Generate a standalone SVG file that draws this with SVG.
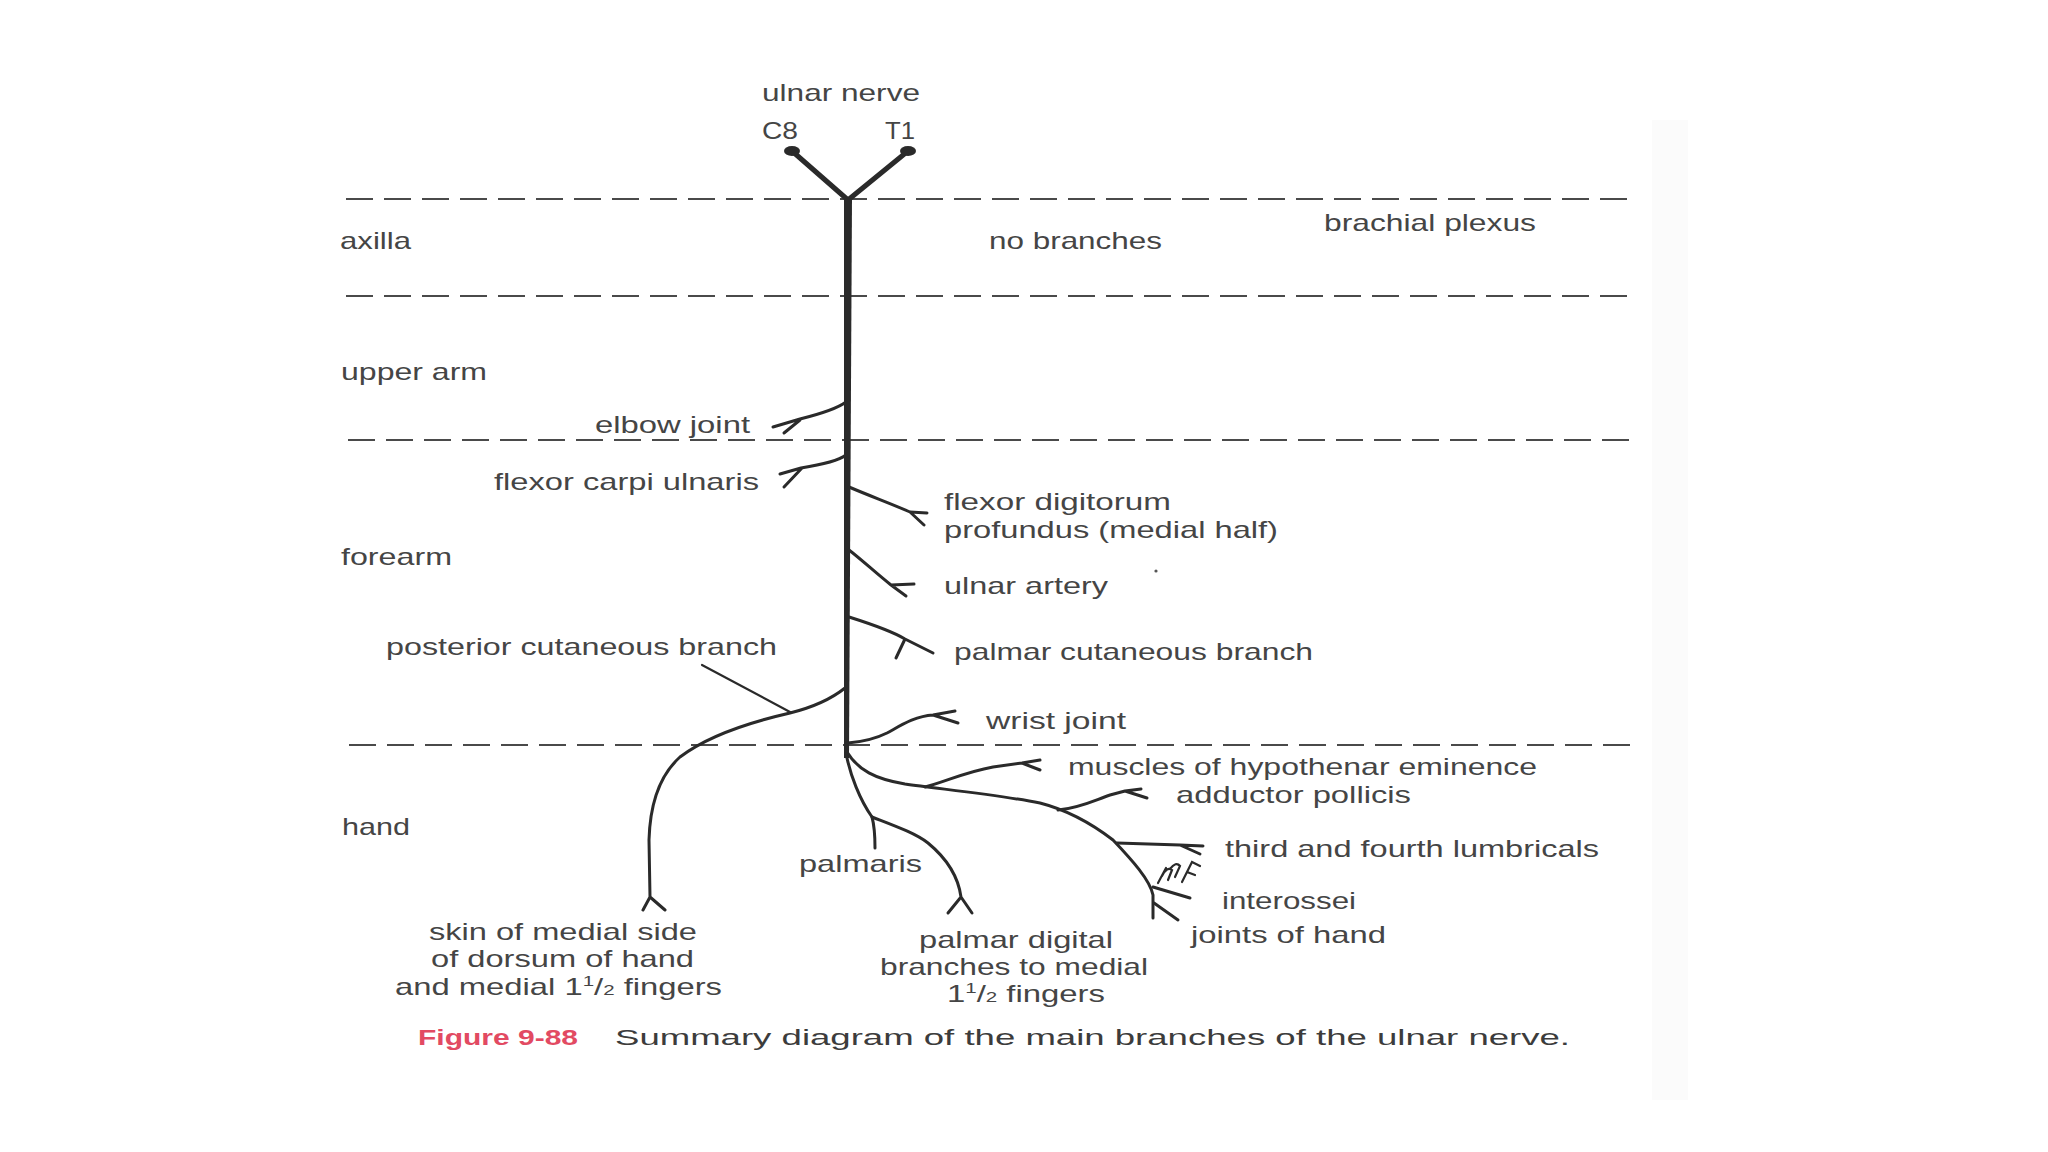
<svg xmlns="http://www.w3.org/2000/svg" width="2048" height="1152" viewBox="0 0 2048 1152">
<style>
  .t { font-family: "Liberation Sans", Arial, sans-serif; font-size: 24px; fill: #454545; }
  .cap { font-family: "Liberation Sans", Arial, sans-serif; font-size: 22px; fill: #3c3c3c; }
  .fig { font-family: "Liberation Sans", Arial, sans-serif; font-size: 22px; fill: #e24a62; font-weight: bold; }
  .dash { stroke: #4a4a4a; stroke-width: 2.2; stroke-dasharray: 27 11; fill: none; }
  .br { stroke: #2a2a2a; stroke-width: 3; fill: none; stroke-linecap: round; stroke-linejoin: round; }
  .thin { stroke: #2a2a2a; stroke-width: 2.2; fill: none; stroke-linecap: round; }
  .root { stroke: #2a2a2a; stroke-width: 5; fill: none; stroke-linecap: round; }
</style>
<rect width="2048" height="1152" fill="#ffffff"/>
<rect x="1652" y="120" width="36" height="980" fill="#f7f7f7" opacity="0.45"/>

<g id="regions">
  <line class="dash" x1="346" y1="199" x2="1636" y2="199"/>
  <line class="dash" x1="346" y1="296" x2="1636" y2="296"/>
  <line class="dash" x1="348" y1="440" x2="1636" y2="440"/>
  <line class="dash" x1="349" y1="745" x2="1636" y2="745"/>
</g>

<g id="connectors">
  <!-- roots C8 and T1 -->
  <line class="root" x1="792" y1="151" x2="848" y2="200"/>
  <line class="root" x1="908" y1="151" x2="848" y2="200"/>
  <ellipse cx="792" cy="151" rx="8" ry="5" fill="#2a2a2a"/>
  <ellipse cx="908" cy="151" rx="8" ry="5" fill="#2a2a2a"/>
  <!-- main trunk -->
  <path d="M844,198 L852,198 L849,758 L844,758 Z" fill="#2a2a2a"/>
  <!-- elbow joint -->
  <path class="br" d="M846,402 C838,408 820,414 800,419 L773,427 M800,420 L784,433"/>
  <!-- flexor carpi ulnaris -->
  <path class="br" d="M846,455 C838,461 820,465 801,468 L780,474 M802,468 L784,487"/>
  <!-- flexor digitorum profundus -->
  <path class="br" d="M849,487 C870,496 892,504 910,512 L927,513 M910,512 L924,525"/>
  <!-- ulnar artery -->
  <path class="br" d="M849,550 C862,560 877,574 891,585 L914,584 M891,585 L906,596"/>
  <!-- palmar cutaneous branch -->
  <path class="br" d="M849,617 C868,623 890,630 905,639 L933,653 M905,639 L896,658"/>
  <!-- posterior cutaneous / dorsal branch -->
  <path class="br" d="M845,688 C830,700 810,708 790,713 C742,724 705,738 680,757 C660,775 650,805 649,840 L650,897 M650,897 L643,910 M650,897 L665,910"/>
  <line class="thin" x1="702" y1="665" x2="790" y2="712"/>
  <!-- wrist joint -->
  <path class="br" d="M848,743 C860,742 873,740 887,733 C900,726 915,716 933,715 L955,711 M933,715 L958,723"/>
  <!-- deep branch -->
  <path class="br" d="M847,752 C858,770 875,779 905,784 C940,789 1000,795 1040,803 C1075,812 1100,830 1113,840 C1132,860 1150,880 1153,895 L1153,918"/>
  <!-- hypothenar -->
  <path class="br" d="M925,787 C945,782 965,772 993,767 L1022,763 L1040,760 M1022,763 L1040,770"/>
  <!-- adductor pollicis -->
  <path class="br" d="M1058,810 C1080,808 1095,800 1110,795 L1125,791 L1141,789 M1125,791 L1147,798"/>
  <!-- third and fourth lumbricals -->
  <path class="br" d="M1117,843 L1180,845 L1203,846 M1180,845 L1200,854"/>
  <!-- small twigs -->
  <path class="thin" d="M1158,883 L1166,868 M1162,876 Q1167,866 1172,870 L1168,880 M1170,869 Q1176,861 1180,866 L1175,877 M1182,882 L1192,862 L1200,866 M1187,872 L1195,875"/>
  <!-- interossei -->
  <path class="br" d="M1153,887 L1190,898"/>
  <!-- joints of hand -->
  <path class="br" d="M1154,903 L1178,920"/>
  <!-- palmaris -->
  <path class="br" d="M846,753 C850,775 860,800 872,817 C875,828 875,838 875,848"/>
  <!-- palmar digital -->
  <path class="br" d="M872,817 C895,826 915,833 928,843 C945,857 958,875 961,897 M961,897 L948,913 M961,897 L972,913"/>
</g>

<g id="labels">
  <g id="title"><text class="t" x="762" y="101" textLength="158" lengthAdjust="spacingAndGlyphs">ulnar nerve</text></g>
  <g id="c8"><text class="t" x="762" y="139" textLength="36" lengthAdjust="spacingAndGlyphs">C8</text></g>
  <g id="t1"><text class="t" x="885" y="139" textLength="30" lengthAdjust="spacingAndGlyphs">T1</text></g>
  <g id="axilla"><text class="t" x="340" y="249" textLength="71" lengthAdjust="spacingAndGlyphs">axilla</text></g>
  <g id="no-branches"><text class="t" x="989" y="249" textLength="173" lengthAdjust="spacingAndGlyphs">no branches</text></g>
  <g id="brachial-plexus"><text class="t" x="1324" y="231" textLength="212" lengthAdjust="spacingAndGlyphs">brachial plexus</text></g>
  <g id="upper-arm"><text class="t" x="341" y="380" textLength="146" lengthAdjust="spacingAndGlyphs">upper arm</text></g>
  <g id="elbow-joint"><text class="t" x="595" y="433" textLength="155" lengthAdjust="spacingAndGlyphs">elbow joint</text></g>
  <g id="fcu"><text class="t" x="494" y="490" textLength="265" lengthAdjust="spacingAndGlyphs">flexor carpi ulnaris</text></g>
  <g id="fdp">
    <text class="t" x="944" y="510" textLength="227" lengthAdjust="spacingAndGlyphs">flexor digitorum</text>
    <text class="t" x="944" y="538" textLength="334" lengthAdjust="spacingAndGlyphs">profundus (medial half)</text>
  </g>
  <g id="forearm"><text class="t" x="341" y="565" textLength="111" lengthAdjust="spacingAndGlyphs">forearm</text></g>
  <g id="ulnar-artery"><text class="t" x="944" y="594" textLength="164" lengthAdjust="spacingAndGlyphs">ulnar artery</text></g>
  <g id="posterior-cutaneous"><text class="t" x="386" y="655" textLength="391" lengthAdjust="spacingAndGlyphs">posterior cutaneous branch</text></g>
  <g id="palmar-cutaneous"><text class="t" x="954" y="660" textLength="359" lengthAdjust="spacingAndGlyphs">palmar cutaneous branch</text></g>
  <g id="wrist-joint"><text class="t" x="986" y="729" textLength="140" lengthAdjust="spacingAndGlyphs">wrist joint</text></g>
  <g id="hypothenar"><text class="t" x="1068" y="775" textLength="469" lengthAdjust="spacingAndGlyphs">muscles of hypothenar eminence</text></g>
  <g id="adductor"><text class="t" x="1176" y="803" textLength="235" lengthAdjust="spacingAndGlyphs">adductor pollicis</text></g>
  <g id="hand"><text class="t" x="342" y="835" textLength="68" lengthAdjust="spacingAndGlyphs">hand</text></g>
  <g id="lumbricals"><text class="t" x="1225" y="857" textLength="374" lengthAdjust="spacingAndGlyphs">third and fourth lumbricals</text></g>
  <g id="palmaris"><text class="t" x="799" y="872" textLength="123" lengthAdjust="spacingAndGlyphs">palmaris</text></g>
  <g id="interossei"><text class="t" x="1222" y="909" textLength="134" lengthAdjust="spacingAndGlyphs">interossei</text></g>
  <g id="joints-of-hand"><text class="t" x="1191" y="943" textLength="195" lengthAdjust="spacingAndGlyphs">joints of hand</text></g>
  <g id="skin-dorsum">
    <text class="t" x="429" y="940" textLength="268" lengthAdjust="spacingAndGlyphs">skin of medial side</text>
    <text class="t" x="431" y="967" textLength="263" lengthAdjust="spacingAndGlyphs">of dorsum of hand</text>
    <text class="t" x="395" y="995" textLength="327" lengthAdjust="spacingAndGlyphs">and medial 1<tspan font-size="15" dy="-9">1</tspan><tspan dy="9">/</tspan><tspan font-size="15">2</tspan> fingers</text>
  </g>
  <g id="palmar-digital">
    <text class="t" x="919" y="948" textLength="194" lengthAdjust="spacingAndGlyphs">palmar digital</text>
    <text class="t" x="880" y="975" textLength="268" lengthAdjust="spacingAndGlyphs">branches to medial</text>
    <text class="t" x="947" y="1002" textLength="158" lengthAdjust="spacingAndGlyphs">1<tspan font-size="15" dy="-9">1</tspan><tspan dy="9">/</tspan><tspan font-size="15">2</tspan> fingers</text>
  </g>
  <g id="caption">
    <text class="fig" x="418" y="1045" textLength="160" lengthAdjust="spacingAndGlyphs">Figure 9-88</text>
    <text class="cap" x="615" y="1045" textLength="955" lengthAdjust="spacingAndGlyphs">Summary diagram of the main branches of the ulnar nerve.</text>
  </g>
</g>
<circle cx="1156" cy="571" r="1.6" fill="#555"/>
</svg>
